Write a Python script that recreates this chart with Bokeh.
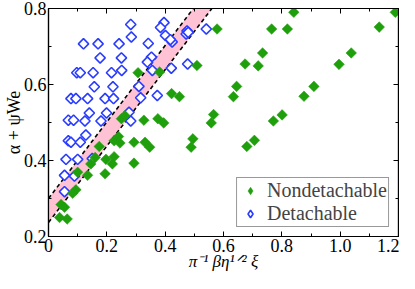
import numpy as np
from bokeh.plotting import figure
from bokeh.models import (FixedTicker, LinearAxis, Legend, LegendItem, Range1d,
                          CustomLabelingPolicy)
from bokeh.embed import file_html
from bokeh.resources import INLINE

# ---------------- data ----------------
nondet_x = [0.841, 1.189, 0.578, 0.765, 0.819, 1.134, 0.734, 0.674, 0.719, 1.038,
            0.996, 0.509, 0.645, 0.634, 0.910, 0.876, 0.566, 0.558, 0.801, 0.771,
            0.706, 0.680, 0.422, 0.449, 0.495, 0.489, 0.307, 0.381,
            0.327, 0.375, 0.395, 0.331, 0.347, 0.293, 0.245, 0.225, 0.293, 0.250,
            0.262, 0.240, 0.174, 0.197, 0.219, 0.194, 0.145, 0.134, 0.100, 0.160,
            0.225, 0.094, 0.083, 0.043, 0.055, 0.038, 0.064]
nondet_y = [0.790, 0.790, 0.746, 0.746, 0.746, 0.751, 0.683, 0.654, 0.649, 0.683,
            0.653, 0.650, 0.595, 0.568, 0.595, 0.569, 0.521, 0.499, 0.520, 0.504,
            0.453, 0.437, 0.576, 0.568, 0.457, 0.435, 0.631, 0.633,
            0.506, 0.510, 0.499, 0.448, 0.435, 0.448, 0.446, 0.452, 0.393, 0.510,
            0.518, 0.463, 0.437, 0.403, 0.391, 0.365, 0.391, 0.361, 0.369, 0.408,
            0.410, 0.323, 0.314, 0.284, 0.277, 0.250, 0.246]

det_x = [0.282, 0.284, 0.120, 0.170, 0.242, 0.177, 0.250, 0.097, 0.109, 0.153,
         0.216, 0.251, 0.157, 0.221,
         0.396, 0.384, 0.401, 0.424, 0.418, 0.342, 0.475, 0.472, 0.479, 0.541,
         0.353, 0.339, 0.356, 0.421, 0.477, 0.310, 0.316, 0.373,
         0.077, 0.094, 0.134, 0.194, 0.223, 0.140, 0.199, 0.276, 0.068, 0.086,
         0.125, 0.180, 0.282, 0.068, 0.077, 0.109, 0.128, 0.060, 0.100, 0.150,
         0.055, 0.089, 0.055]
det_y = [0.758, 0.725, 0.707, 0.707, 0.707, 0.670, 0.670, 0.631, 0.631, 0.631,
         0.631, 0.637, 0.594, 0.594,
         0.763, 0.750, 0.729, 0.712, 0.718, 0.708, 0.741, 0.733, 0.737, 0.746,
         0.672, 0.659, 0.637, 0.643, 0.654, 0.595, 0.565, 0.571,
         0.563, 0.563, 0.563, 0.563, 0.563, 0.525, 0.525, 0.527, 0.506, 0.506,
         0.504, 0.504, 0.504, 0.452, 0.448, 0.448, 0.467, 0.403, 0.403, 0.405,
         0.361, 0.359, 0.318]

band_x = [0.0, 0.6]
band_upper = [0.300, 0.904]
band_lower = [0.237, 0.840]

x_ticks = [0.0, 0.2, 0.4, 0.6, 0.8, 1.0, 1.2]
x_tick_labels = ["0", "0.2", "0.4", "0.6", "0.8", "1.0", "1.2"]
x_minor = [0.1, 0.3, 0.5, 0.7, 0.9, 1.1]
y_ticks = [0.2, 0.4, 0.6, 0.8]
y_tick_labels = ["0.2", "0.4", "0.6", "0.8"]
y_minor = [0.3, 0.5, 0.7]

x_title = "π⁻¹ βη¹ᐟ² ξ"
y_title = "α + ψWe"
series_names = ["Nondetachable", "Detachable"]

GREEN = "#1f9f0c"
BLUE = "#2a3dff"
PINK = "#ffc2d4"
SERIF = "'Liberation Serif', 'Times New Roman', serif"
FS = "18px"

p = figure(width=399, height=273, x_range=Range1d(0, 1.2), y_range=Range1d(0.2, 0.8),
           output_backend="svg", toolbar_location=None,
           min_border_left=40, min_border_right=1, min_border_top=8, min_border_bottom=30)
p.xgrid.visible = False
p.ygrid.visible = False
p.outline_line_color = "black"
p.outline_line_width = 1.2
p.background_fill_color = "white"
p.border_fill_color = "white"

# extra axes (ticks only) to close the box
for side in ("above", "right"):
    ax = LinearAxis(major_label_policy=CustomLabelingPolicy(
        code="for (const i of indices) indices.unset(i)"),
        major_label_standoff=0, major_label_text_font_size="0px")
    p.add_layout(ax, side)

for ax in p.xaxis:
    ax.ticker = FixedTicker(ticks=x_ticks, minor_ticks=x_minor)
    ax.major_label_overrides = {t: l for t, l in zip(x_ticks, x_tick_labels)}
for ax in p.yaxis:
    ax.ticker = FixedTicker(ticks=y_ticks, minor_ticks=y_minor)
    ax.major_label_overrides = {t: l for t, l in zip(y_ticks, y_tick_labels)}

for ax in p.axis:
    ax.major_tick_in = 5
    ax.major_tick_out = 0
    ax.minor_tick_in = 3
    ax.minor_tick_out = 0
    ax.axis_line_color = "black"
    ax.axis_line_width = 1.2
    ax.major_tick_line_color = "black"
    ax.minor_tick_line_color = "black"
    ax.major_label_text_font = SERIF
    ax.major_label_text_color = "black"

for ax in (p.below[0], p.left[0]):
    ax.major_label_text_font_size = FS
    ax.major_label_standoff = 2
    ax.axis_label_text_font = SERIF
    ax.axis_label_text_color = "black"
    ax.axis_label_standoff = -3

p.below[0].axis_label = x_title
p.below[0].axis_label_text_font_size = "17px"
p.below[0].axis_label_text_font_style = "italic"
p.left[0].axis_label = y_title
p.left[0].axis_label_text_font_size = FS
p.left[0].axis_label_text_font_style = "normal"

# band
p.varea(x=band_x, y1=band_lower, y2=band_upper, fill_color=PINK, fill_alpha=1.0)
p.line(band_x, band_upper, line_color="black", line_width=1.6, line_dash="4 3")
p.line(band_x, band_lower, line_color="black", line_width=1.6, line_dash="4 3")

# points
b = p.scatter(det_x, det_y, marker="square", angle=np.pi / 4, size=7.3,
              fill_color="white", line_color=BLUE, line_width=1.6)
g = p.scatter(nondet_x, nondet_y, marker="square", angle=np.pi / 4, size=7.5,
              fill_color=GREEN, line_color=GREEN, line_width=0.5)

# legend swatches: diamond-marker renderers that draw nothing in the plot (NaN)
g_leg = p.scatter(x=[np.nan], y=[np.nan], marker="diamond", size=10,
                  fill_color=GREEN, line_color=GREEN, line_width=0.5)
b_leg = p.scatter(x=[np.nan], y=[np.nan], marker="diamond", size=10,
                  fill_color="white", line_color=BLUE, line_width=1.6)

legend = Legend(items=[LegendItem(label=series_names[0], renderers=[g_leg]),
                       LegendItem(label=series_names[1], renderers=[b_leg])],
                location="bottom_right", margin=9, padding=1, spacing=0,
                label_text_font=SERIF, label_text_font_size="20px",
                label_height=18, glyph_height=19, glyph_width=24, label_standoff=5,
                border_line_color="#333333", border_line_width=1,
                background_fill_color="white", background_fill_alpha=1.0)
p.add_layout(legend)

open("out.html", "w").write(file_html(p, INLINE))
